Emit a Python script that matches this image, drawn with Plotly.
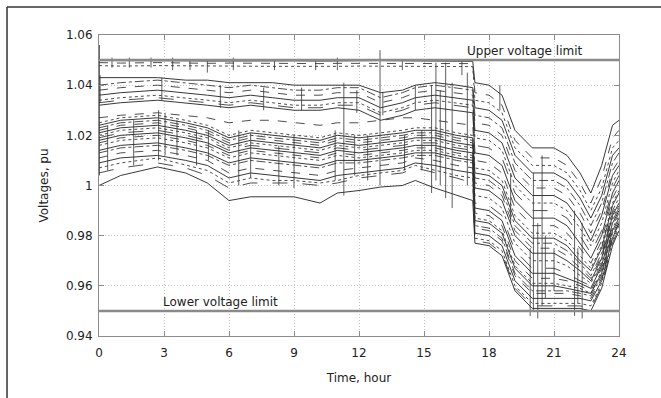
import plotly.graph_objects as go

T = [0, 1, 2.7, 4, 5, 6, 7, 8, 9, 10.2, 11, 12, 13, 14, 14.6, 15.5, 16.5, 17.25,
     17.35, 18, 18.6, 19.2, 20, 21, 21.6, 22.2, 22.7, 23.2, 23.7, 24]

# bus voltages (pu), one list per bus
A1 = [1.0498, 1.0498, 1.0499, 1.0497, 1.0496, 1.0497, 1.0497, 1.0496, 1.0497, 1.0496, 1.0497, 1.0497, 1.0498, 1.0497, 1.0497, 1.0496, 1.0496, 1.0495,
      1.041, 1.040, 1.036, 1.022, 1.015, 1.015, 1.012, 1.005, 0.997, 1.008, 1.024, 1.026]
A2 = [1.0490, 1.0488, 1.0490, 1.0488, 1.0487, 1.0488, 1.0487, 1.0486, 1.0487, 1.0486, 1.0487, 1.0487, 1.0488, 1.0488, 1.0488, 1.0487, 1.0487, 1.0486,
      1.037, 1.036, 1.032, 1.018, 1.011, 1.011, 1.008, 1.001, 0.993, 1.003, 1.019, 1.022]
A3 = [1.0478, 1.0476, 1.0478, 1.0477, 1.0475, 1.0476, 1.0476, 1.0475, 1.0475, 1.0474, 1.0475, 1.0476, 1.0476, 1.0476, 1.0476, 1.0475, 1.0475, 1.0474,
      1.034, 1.033, 1.029, 1.015, 1.008, 1.008, 1.005, 0.998, 0.990, 0.999, 1.015, 1.018]
B1 = [1.043, 1.043, 1.043, 1.042, 1.042, 1.041, 1.041, 1.041, 1.040, 1.040, 1.040, 1.040, 1.037, 1.038, 1.040, 1.041, 1.040, 1.039,
      1.031, 1.030, 1.026, 1.012, 1.005, 1.005, 1.002, 0.995, 0.987, 0.996, 1.012, 1.015]
B2 = [1.040, 1.041, 1.042, 1.041, 1.040, 1.039, 1.040, 1.039, 1.038, 1.038, 1.039, 1.039, 1.035, 1.037, 1.039, 1.040, 1.039, 1.038,
      1.028, 1.027, 1.023, 1.009, 1.002, 1.002, 0.999, 0.992, 0.984, 0.993, 1.009, 1.013]
B3 = [1.038, 1.039, 1.040, 1.039, 1.038, 1.037, 1.038, 1.037, 1.036, 1.036, 1.037, 1.037, 1.033, 1.035, 1.037, 1.038, 1.037, 1.036,
      1.025, 1.024, 1.020, 1.006, 0.999, 0.999, 0.996, 0.989, 0.981, 0.990, 1.006, 1.010]
B4 = [1.036, 1.037, 1.038, 1.037, 1.036, 1.035, 1.036, 1.035, 1.034, 1.034, 1.035, 1.035, 1.031, 1.033, 1.035, 1.036, 1.035, 1.034,
      1.022, 1.021, 1.017, 1.003, 0.996, 0.996, 0.993, 0.986, 0.978, 0.988, 1.004, 1.008]
B5 = [1.034, 1.035, 1.036, 1.035, 1.034, 1.033, 1.034, 1.033, 1.032, 1.032, 1.033, 1.033, 1.029, 1.031, 1.033, 1.034, 1.033, 1.032,
      1.019, 1.018, 1.014, 1.000, 0.993, 0.993, 0.990, 0.983, 0.976, 0.985, 1.001, 1.006]
B6 = [1.033, 1.034, 1.035, 1.034, 1.033, 1.032, 1.033, 1.032, 1.031, 1.031, 1.032, 1.032, 1.028, 1.030, 1.032, 1.033, 1.032, 1.031,
      1.016, 1.015, 1.011, 0.997, 0.990, 0.990, 0.987, 0.980, 0.973, 0.982, 0.999, 1.004]
B7 = [1.032, 1.033, 1.034, 1.033, 1.032, 1.031, 1.032, 1.031, 1.030, 1.030, 1.031, 1.030, 1.026, 1.028, 1.030, 1.031, 1.030, 1.029,
      1.013, 1.012, 1.008, 0.994, 0.987, 0.987, 0.984, 0.977, 0.971, 0.980, 0.997, 1.002]
C1 = [1.027, 1.028, 1.029, 1.028, 1.027, 1.025, 1.026, 1.026, 1.025, 1.024, 1.025, 1.025, 1.026, 1.027, 1.027, 1.026, 1.025, 1.024,
      1.010, 1.009, 1.005, 0.991, 0.984, 0.984, 0.981, 0.975, 0.969, 0.978, 0.995, 1.000]
C2 = [1.025, 1.027, 1.028, 1.026, 1.024, 1.020, 1.022, 1.021, 1.020, 1.019, 1.021, 1.020, 1.021, 1.022, 1.023, 1.023, 1.021, 1.020,
      1.007, 1.006, 1.002, 0.988, 0.981, 0.981, 0.978, 0.972, 0.967, 0.976, 0.993, 0.998]
C3 = [1.024, 1.026, 1.027, 1.025, 1.023, 1.019, 1.021, 1.020, 1.019, 1.018, 1.020, 1.019, 1.020, 1.021, 1.022, 1.022, 1.020, 1.019,
      1.005, 1.004, 1.000, 0.986, 0.979, 0.979, 0.976, 0.970, 0.966, 0.975, 0.992, 0.997]
C4 = [1.023, 1.025, 1.026, 1.024, 1.022, 1.018, 1.020, 1.019, 1.018, 1.017, 1.019, 1.018, 1.019, 1.020, 1.021, 1.021, 1.019, 1.018,
      1.003, 1.002, 0.998, 0.984, 0.977, 0.977, 0.974, 0.969, 0.964, 0.973, 0.990, 0.995]
C5 = [1.022, 1.024, 1.025, 1.023, 1.021, 1.017, 1.019, 1.018, 1.017, 1.016, 1.018, 1.017, 1.018, 1.019, 1.020, 1.020, 1.018, 1.017,
      1.001, 1.000, 0.996, 0.982, 0.975, 0.975, 0.972, 0.967, 0.963, 0.972, 0.989, 0.994]
C6 = [1.021, 1.023, 1.024, 1.022, 1.020, 1.016, 1.018, 1.017, 1.016, 1.015, 1.017, 1.016, 1.017, 1.018, 1.019, 1.019, 1.017, 1.016,
      0.999, 0.998, 0.994, 0.980, 0.973, 0.973, 0.970, 0.966, 0.962, 0.971, 0.988, 0.993]
C7 = [1.020, 1.022, 1.023, 1.021, 1.019, 1.015, 1.017, 1.016, 1.015, 1.014, 1.016, 1.015, 1.016, 1.017, 1.018, 1.018, 1.016, 1.015,
      0.996, 0.995, 0.991, 0.977, 0.970, 0.970, 0.968, 0.964, 0.961, 0.970, 0.987, 0.992]
C8 = [1.019, 1.021, 1.022, 1.020, 1.018, 1.014, 1.016, 1.015, 1.014, 1.013, 1.015, 1.014, 1.015, 1.016, 1.017, 1.017, 1.015, 1.014,
      0.993, 0.992, 0.988, 0.974, 0.967, 0.967, 0.965, 0.962, 0.960, 0.969, 0.986, 0.991]
C9 = [1.018, 1.020, 1.021, 1.019, 1.017, 1.013, 1.015, 1.014, 1.013, 1.012, 1.014, 1.013, 1.014, 1.015, 1.016, 1.016, 1.014, 1.013,
      0.991, 0.990, 0.986, 0.972, 0.965, 0.965, 0.963, 0.961, 0.959, 0.968, 0.985, 0.990]
C10 = [1.017, 1.019, 1.020, 1.018, 1.016, 1.012, 1.014, 1.013, 1.012, 1.011, 1.013, 1.012, 1.013, 1.014, 1.015, 1.015, 1.013, 1.012,
       0.989, 0.988, 0.984, 0.970, 0.963, 0.963, 0.962, 0.960, 0.958, 0.967, 0.984, 0.989]
C11 = [1.016, 1.018, 1.019, 1.017, 1.015, 1.011, 1.013, 1.012, 1.011, 1.010, 1.012, 1.011, 1.012, 1.013, 1.014, 1.014, 1.012, 1.011,
       0.987, 0.986, 0.982, 0.968, 0.961, 0.961, 0.960, 0.959, 0.957, 0.966, 0.983, 0.988]
C12 = [1.014, 1.016, 1.017, 1.015, 1.013, 1.009, 1.011, 1.010, 1.009, 1.008, 1.010, 1.010, 1.011, 1.012, 1.013, 1.013, 1.011, 1.010,
       0.986, 0.985, 0.981, 0.967, 0.960, 0.960, 0.959, 0.958, 0.957, 0.965, 0.982, 0.987]
C13 = [1.013, 1.015, 1.016, 1.014, 1.012, 1.008, 1.010, 1.009, 1.008, 1.007, 1.009, 1.009, 1.010, 1.011, 1.012, 1.012, 1.010, 1.009,
       0.984, 0.983, 0.979, 0.965, 0.958, 0.958, 0.958, 0.957, 0.956, 0.964, 0.981, 0.986]
C14 = [1.011, 1.013, 1.014, 1.012, 1.010, 1.005, 1.007, 1.006, 1.005, 1.004, 1.006, 1.007, 1.008, 1.009, 1.011, 1.010, 1.008, 1.007,
       0.983, 0.982, 0.978, 0.964, 0.957, 0.957, 0.957, 0.956, 0.955, 0.963, 0.980, 0.985]
C15 = [1.009, 1.011, 1.012, 1.010, 1.008, 1.003, 1.005, 1.004, 1.003, 1.002, 1.004, 1.005, 1.006, 1.007, 1.009, 1.008, 1.006, 1.005,
       0.981, 0.980, 0.976, 0.962, 0.955, 0.955, 0.955, 0.955, 0.954, 0.962, 0.979, 0.985]
C16 = [1.007, 1.009, 1.011, 1.008, 1.006, 1.001, 1.003, 1.002, 1.002, 1.001, 1.002, 1.004, 1.005, 1.006, 1.008, 1.006, 1.004, 1.003,
       0.979, 0.978, 0.974, 0.960, 0.953, 0.953, 0.953, 0.953, 0.952, 0.961, 0.978, 0.984]
C17 = [1.005, 1.007, 1.009, 1.007, 1.004, 0.999, 1.001, 1.001, 1.001, 1.000, 1.001, 1.003, 1.004, 1.005, 1.007, 1.005, 1.003, 1.001,
       0.978, 0.977, 0.973, 0.959, 0.952, 0.952, 0.952, 0.952, 0.951, 0.960, 0.977, 0.983]
L1 = [1.000, 1.004, 1.0074, 1.005, 1.001, 0.994, 0.9955, 0.9955, 0.9955, 0.993, 0.997, 0.998, 0.9994, 1.000, 1.002, 0.999, 0.996, 0.994,
      0.977, 0.976, 0.972, 0.958, 0.951, 0.951, 0.951, 0.951, 0.950, 0.959, 0.976, 0.982]

SERIES = [A1, A2, A3, B1, B2, B3, B4, B5, B6, B7, C1, C2, C3, C4, C5, C6, C7, C8,
          C9, C10, C11, C12, C13, C14, C15, C16, C17, L1]

# short transients visible as vertical strokes: time, lowest and highest voltage
SPIKE_T = [0.02, 0.05, 2.75, 2.9, 3.05, 5.0, 5.05, 6.45, 7.0, 9.0, 9.35, 10.9, 11.3, 11.8,
           12.97, 13.1, 15.35, 15.55, 15.75, 16.0, 16.3, 16.75, 17.0,
           19.9, 20.05, 20.25, 20.45, 20.6, 21.95, 22.1, 22.3,
           0.6, 1.4, 2.4, 3.4, 4.2, 6.2, 8.1, 10.0, 11.0, 14.0,
           0.4, 1.6, 3.6, 4.5, 8.3, 12.4, 14.1, 14.9,
           5.6, 7.6, 11.9, 14.6, 18.5, 19.0, 21.0]
SPIKE_LO = [1.004, 1.033, 1.010, 1.034, 1.012, 1.045, 1.010, 1.000, 1.003, 0.999, 1.030, 1.002, 0.996, 1.004,
            1.000, 1.028, 0.997, 1.002, 1.000, 0.995, 0.991, 1.044, 1.000,
            0.948, 0.950, 0.947, 0.952, 0.955, 0.948, 0.953, 0.947,
            1.047, 1.047, 1.047, 1.046, 1.046, 1.046, 1.046, 1.046, 1.046, 1.046,
            1.006, 1.008, 1.012, 1.008, 1.000, 1.002, 1.006, 1.006,
            1.031, 1.030, 1.029, 1.030, 1.030, 0.985, 0.958]
SPIKE_HI = [1.056, 1.044, 1.030, 1.043, 1.029, 1.050, 1.022, 1.022, 1.021, 1.020, 1.039, 1.022, 1.041, 1.020,
            1.054, 1.037, 1.040, 1.049, 1.038, 1.049, 1.041, 1.050, 1.045,
            0.975, 1.005, 0.985, 1.012, 0.980, 0.990, 0.975, 0.985,
            1.051, 1.051, 1.051, 1.051, 1.050, 1.051, 1.050, 1.050, 1.051, 1.050,
            1.024, 1.026, 1.026, 1.022, 1.016, 1.020, 1.020, 1.022,
            1.040, 1.039, 1.038, 1.040, 1.040, 1.005, 0.975]

UPPER_LIMIT = 1.05
LOWER_LIMIT = 0.95
X_TICKS = [0, 3, 6, 9, 12, 15, 18, 21, 24]
Y_TICKS = [0.94, 0.96, 0.98, 1.0, 1.02, 1.04, 1.06]
Y_TICKTEXT = ["0.94", "0.96", "0.98", "1", "1.02", "1.04", "1.06"]

DASHES = ["solid", "dash", "dot", "solid", "dashdot", "dash", "solid", "dot", "longdash"]

fig = go.Figure()

for i, v in enumerate(SERIES):
    dash = DASHES[i % len(DASHES)]
    fig.add_trace(go.Scatter(
        x=T, y=v, mode="lines",
        line=dict(color="#222222" if dash == "solid" else "#3a3a3a", width=0.9, dash=dash),
        showlegend=False, hoverinfo="skip"))

sx, sy = [], []
for t, lo, hi in zip(SPIKE_T, SPIKE_LO, SPIKE_HI):
    sx += [t, t, None]
    sy += [lo, hi, None]
fig.add_trace(go.Scatter(x=sx, y=sy, mode="lines",
                         line=dict(color="#333333", width=0.8),
                         showlegend=False, hoverinfo="skip"))

for lim in (UPPER_LIMIT, LOWER_LIMIT):
    fig.add_trace(go.Scatter(x=[X_TICKS[0], X_TICKS[-1]], y=[lim, lim], mode="lines",
                             line=dict(color="#8a8a8a", width=2.5),
                             showlegend=False, hoverinfo="skip"))

fig.add_annotation(x=19.64, y=UPPER_LIMIT, yshift=9, text="Upper voltage limit",
                   showarrow=False, font=dict(size=12, color="#222222"))
fig.add_annotation(x=5.61, y=LOWER_LIMIT, yshift=9, text="Lower voltage limit",
                   showarrow=False, font=dict(size=12, color="#222222"))

# outer frame (left and top edges)
fig.add_shape(type="line", xref="paper", yref="paper", x0=-0.1769, x1=1.1, y0=1.093, y1=1.093,
              line=dict(color="#333333", width=1.5))
fig.add_shape(type="line", xref="paper", yref="paper", x0=-0.1769, x1=-0.1769, y0=1.093, y1=-0.25,
              line=dict(color="#333333", width=1.5))

axis_common = dict(showline=True, linecolor="#8c8c8c", linewidth=1, mirror="ticks",
                   ticks="inside", ticklen=5, tickcolor="#8c8c8c",
                   showgrid=True, gridcolor="#c4c4c4", griddash="1px,2px", gridwidth=1,
                   zeroline=False, tickfont=dict(size=12, color="#222222"))

fig.update_xaxes(range=[0, 24], tickvals=X_TICKS, ticklabelstandoff=6,
                 title=dict(text="Time, hour", font=dict(size=12, color="#222222"), standoff=14),
                 **axis_common)
fig.update_yaxes(range=[0.94, 1.06], tickvals=Y_TICKS, ticktext=Y_TICKTEXT, ticklabelstandoff=3,
                 title=dict(text="Voltages, pu", font=dict(size=12, color="#222222"), standoff=14),
                 **axis_common)

fig.update_layout(width=661, height=398,
                  margin=dict(l=99, r=42, t=35, b=62),
                  paper_bgcolor="white", plot_bgcolor="white",
                  font=dict(family="DejaVu Sans, Verdana, sans-serif", size=12, color="#222222"))

fig.write_html("out.html")
